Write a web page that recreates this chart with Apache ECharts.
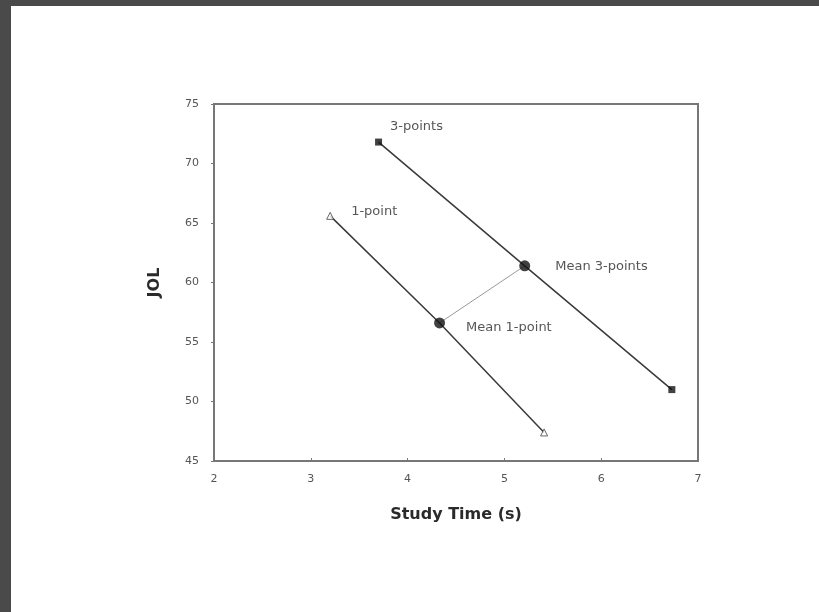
<!DOCTYPE html>
<html>
<head>
<meta charset="utf-8">
<script src="https://cdn.jsdelivr.net/npm/echarts@6/dist/echarts.min.js"></script>
<style>
  html, body { margin: 0; padding: 0; background: #4a4a4a; }
  #frame { position: absolute; left: 11px; top: 6px; width: 808px; height: 606px; background: #fff; }
  #main { position: absolute; left: -11px; top: -6px; width: 819px; height: 612px; }
</style>
</head>
<body>
<div id="frame"><div id="main"></div></div>
<script>
// study time (s) / JOL values
var threePoints = [[3.70, 71.8], [5.21, 61.4], [6.73, 51.0]];
var onePoint = [[3.20, 65.6], [4.33, 56.6], [5.41, 47.4]];
var means = [[4.33, 56.6], [5.21, 61.4]];
var meanLabels = ['Mean 1-point', 'Mean 3-points'];
var xTicks = [2, 3, 4, 5, 6, 7];
var yTicks = [45, 50, 55, 60, 65, 70, 75];

var font = '"DejaVu Sans", sans-serif';
var chart = echarts.init(document.getElementById('main'));

function axisCommon() {
    return {
        axisLine: { show: true, onZero: false, lineStyle: { color: '#777', width: 2 } },
        axisLabel: { color: '#555', fontSize: 11, fontFamily: font },
        splitLine: { show: false }
    };
}

var xAxis = Object.assign(axisCommon(), {
    type: 'value', min: xTicks[0], max: xTicks[xTicks.length - 1], interval: 1,
    name: 'Study Time (s)', nameLocation: 'middle', nameGap: 46,
    nameTextStyle: { fontFamily: font, fontWeight: 'bold', fontSize: 16, color: '#2a2a2a' },
    axisTick: { show: true, inside: true, length: 3, lineStyle: { color: '#777' } }
});
xAxis.axisLabel.margin = 13;

var yAxis = Object.assign(axisCommon(), {
    type: 'value', min: yTicks[0], max: yTicks[yTicks.length - 1], interval: 5,
    name: 'JOL', nameLocation: 'middle', nameGap: 51, nameRotate: 90,
    nameTextStyle: { fontFamily: font, fontWeight: 'bold', fontSize: 16, color: '#2a2a2a' },
    axisTick: { show: true, length: 3, lineStyle: { color: '#777' } }
});
yAxis.axisLabel.margin = 15;

var labelStyle = { show: true, color: '#2a2a2a', fontSize: 13, fontFamily: font };

chart.setOption({
    backgroundColor: 'transparent',
    animation: false,
    grid: {
        left: 214, right: 121, top: 104, bottom: 151,
        show: true, borderColor: '#777', borderWidth: 2, backgroundColor: 'transparent'
    },
    xAxis: xAxis,
    yAxis: yAxis,
    series: [
        {
            type: 'line', data: threePoints, symbol: 'none',
            lineStyle: { color: '#3a3a3a', width: 1.5 }, z: 2
        },
        {
            type: 'line', data: onePoint, symbol: 'none',
            lineStyle: { color: '#3a3a3a', width: 1.5 }, z: 2
        },
        {
            type: 'line', data: means, symbol: 'none',
            lineStyle: { color: '#999', width: 1 }, z: 1
        },
        {
            type: 'scatter', symbol: 'rect', symbolSize: 7,
            itemStyle: { color: '#111' }, z: 3,
            data: [
                { value: threePoints[0], label: Object.assign({}, labelStyle, { position: 'right', offset: [3, -15], formatter: '3-points' }) },
                { value: threePoints[2] }
            ]
        },
        {
            type: 'scatter', symbol: 'triangle', symbolSize: 7,
            itemStyle: { color: '#fff', borderColor: '#444', borderWidth: 1 }, z: 3,
            data: [
                { value: onePoint[0], label: Object.assign({}, labelStyle, { position: 'right', offset: [12, -4], formatter: '1-point' }) },
                { value: onePoint[2] }
            ]
        },
        {
            type: 'scatter', symbol: 'circle', symbolSize: 11,
            itemStyle: { color: '#111' }, z: 3,
            data: means.map(function (m, i) {
                return {
                    value: m,
                    label: Object.assign({}, labelStyle, {
                        position: 'right', offset: i === 0 ? [16, 5] : [20, 1],
                        formatter: meanLabels[i]
                    })
                };
            })
        }
    ]
});
</script>
</body>
</html>
